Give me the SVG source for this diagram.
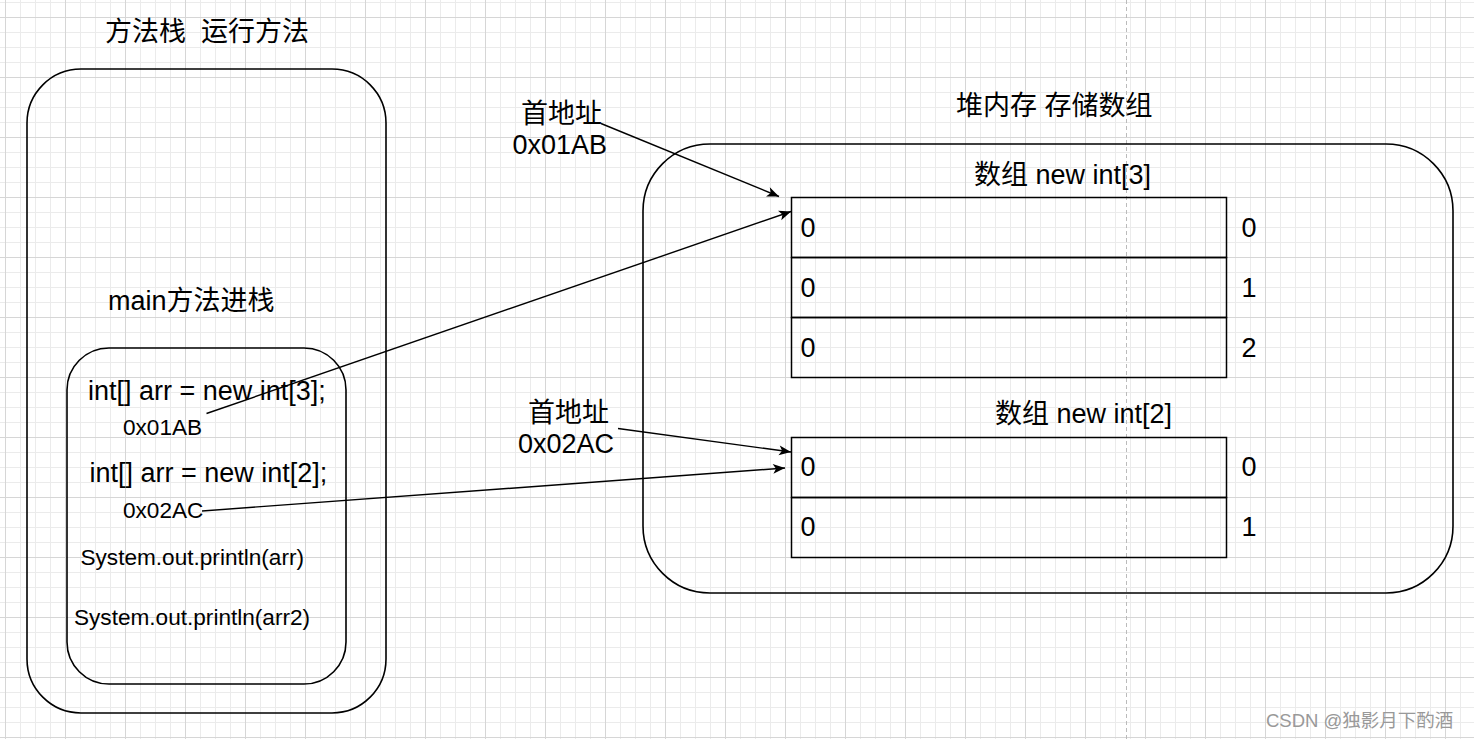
<svg xmlns="http://www.w3.org/2000/svg" width="1474" height="739" viewBox="0 0 1474 739">
<defs>
<pattern id="grid" patternUnits="userSpaceOnUse" x="5" y="17" width="60" height="60">
<rect x="15" y="0" width="1" height="60" fill="#ebebeb"/>
<rect x="30" y="0" width="1" height="60" fill="#ebebeb"/>
<rect x="45" y="0" width="1" height="60" fill="#ebebeb"/>
<rect x="0" y="15" width="60" height="1" fill="#ebebeb"/>
<rect x="0" y="30" width="60" height="1" fill="#ebebeb"/>
<rect x="0" y="45" width="60" height="1" fill="#ebebeb"/>
<rect x="0" y="0" width="1" height="60" fill="#d6d6d6"/>
<rect x="0" y="0" width="60" height="1" fill="#d6d6d6"/>
</pattern>
<marker id="arrow" viewBox="-13 -6 14 12" refX="0" refY="0" markerWidth="14" markerHeight="12" markerUnits="userSpaceOnUse" orient="auto">
<path d="M0,0 L-12,-5 L-9,0 L-12,5 Z" fill="#000"/>
</marker>
</defs>
<style>
text{font-family:"Liberation Sans","Noto Sans CJK SC",sans-serif;fill:#000;white-space:pre;}
.t{font-size:27px;}
.s{font-size:22.6px;}
.box{fill:none;stroke:#000;stroke-width:1.6;}
.cell{fill:none;stroke:#000;stroke-width:1.5;}
.edge{fill:none;stroke:#000;stroke-width:1.4;marker-end:url(#arrow);}
.wm{font-size:18.5px;fill:#999;}
</style>
<rect x="0" y="0" width="1474" height="739" fill="#ffffff"/>
<rect x="0" y="0" width="1474" height="739" fill="url(#grid)"/>
<line x1="1126.5" y1="0" x2="1126.5" y2="739" stroke="#bbbbbb" stroke-width="1" stroke-dasharray="4 3"/>

<g id="title-stack"><text class="t" x="105" y="41" xml:space="preserve">方法栈  运行方法</text></g>

<g id="method-stack">
<rect class="box" x="27" y="69" width="359" height="644" rx="54" ry="54"/>
</g>

<g id="main-frame-label"><text class="t" x="108" y="310">main方法进栈</text></g>

<g id="main-frame">
<rect class="box" x="67" y="348" width="279" height="336" rx="42" ry="42"/>
<text class="t" x="88" y="400">int[] arr = new int[3];</text>
<text class="s" x="123" y="435">0x01AB</text>
<text class="t" x="89.5" y="482">int[] arr = new int[2];</text>
<text class="s" x="123" y="518">0x02AC</text>
<text class="s" x="80.5" y="565">System.out.println(arr)</text>
<text class="s" x="74" y="625">System.out.println(arr2)</text>
</g>

<g id="addr1-label">
<text class="t" x="521" y="123">首地址</text>
<text class="t" x="512.5" y="154">0x01AB</text>
</g>

<g id="addr2-label">
<text class="t" x="528" y="422">首地址</text>
<text class="t" x="518" y="453">0x02AC</text>
</g>

<g id="heap-label"><text class="t" x="956" y="115">堆内存 存储数组</text></g>

<g id="heap">
<rect class="box" x="643" y="144" width="810" height="449" rx="67" ry="67"/>
</g>

<g id="array3">
<text class="t" x="974" y="184">数组 new int[3]</text>
<rect class="cell" x="791.5" y="197.5" width="435" height="60"/>
<rect class="cell" x="791.5" y="257.5" width="435" height="60"/>
<rect class="cell" x="791.5" y="317.5" width="435" height="60"/>
<text class="t" x="800.5" y="236.5">0</text>
<text class="t" x="800.5" y="296.5">0</text>
<text class="t" x="800.5" y="356.5">0</text>
<text class="t" x="1241.5" y="236.5">0</text>
<text class="t" x="1241.5" y="296.5">1</text>
<text class="t" x="1241.5" y="356.5">2</text>
</g>

<g id="array2">
<text class="t" x="995" y="423">数组 new int[2]</text>
<rect class="cell" x="791.5" y="437.5" width="435" height="60"/>
<rect class="cell" x="791.5" y="497.5" width="435" height="60"/>
<text class="t" x="800.5" y="476">0</text>
<text class="t" x="800.5" y="536">0</text>
<text class="t" x="1241.5" y="476">0</text>
<text class="t" x="1241.5" y="536">1</text>
</g>

<g id="connectors">
<line class="edge" x1="601" y1="123.5" x2="779" y2="196.5"/>
<line class="edge" x1="206.5" y1="413.5" x2="791" y2="211.5"/>
<line class="edge" x1="618" y1="428.5" x2="791" y2="452"/>
<line class="edge" x1="202" y1="511" x2="785" y2="468"/>
</g>

<text class="wm" x="1266" y="727">CSDN @独影月下酌酒</text>
</svg>
